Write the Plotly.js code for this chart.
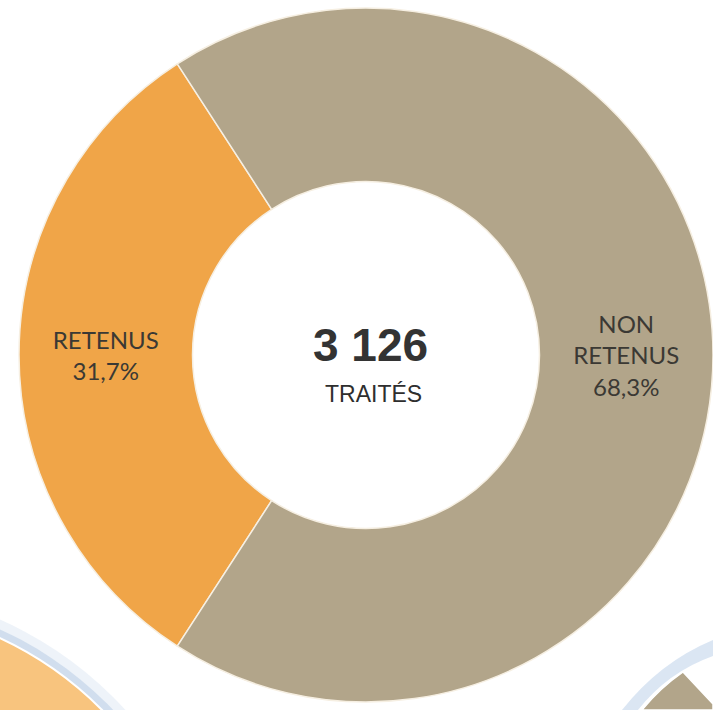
<!DOCTYPE html>
<html>
<head>
<meta charset="utf-8">
<script src="https://cdn.plot.ly/plotly-3.0.1.min.js"></script>
<style>
  html, body { margin: 0; padding: 0; background: #ffffff; overflow: hidden; }
  #chart { width: 713px; height: 710px; }
</style>
</head>
<body>
<div id="chart"></div>
<script>
// ---- Data ----
const categories = ["RETENUS", "NON<br>RETENUS"];
const shares = [31.7, 68.3];
const sliceColors = ["#F0A548", "#B2A58A"];
const totalValue = "3 126";
const totalLabel = "TRAITÉS";

// ---- Chart ----
const W = 713, H = 710;
const cx = 366, cy = 355, R = 347;

const trace = {
  type: "pie",
  labels: categories,
  values: shares,
  sort: false,
  direction: "clockwise",
  rotation: 270 - (shares[0] / 100) * 180,
  hole: 0.5,
  marker: { colors: sliceColors, line: { color: "#f6efe2", width: 1.5 } },
  texttemplate: "%{label}<br>%{percent:.1%}",
  textposition: "inside",
  insidetextorientation: "horizontal",
  insidetextfont: { family: "Lato, 'Open Sans', sans-serif", size: 24, color: "#3b3934" },
  showlegend: false,
  hoverinfo: "none",
  domain: {
    x: [(cx - R) / W, (cx + R) / W],
    y: [(H - cy - R) / H, (H - cy + R) / H]
  }
};

const px = v => v / W;
const py = v => 1 - v / H;

const layout = {
  width: W,
  height: H,
  margin: { l: 0, r: 0, t: 0, b: 0 },
  paper_bgcolor: "#ffffff",
  separators: ", ",
  showlegend: false,
  shapes: [
    // bottom-left neighbour chart (soft shadow + light orange disc)
    { type: "circle", xref: "paper", yref: "paper", layer: "below",
      x0: px(-150 - 372), x1: px(-150 + 372), y0: py(960 + 372), y1: py(960 - 372),
      fillcolor: "rgba(200,216,235,0.3)", line: { width: 0 } },
    { type: "circle", xref: "paper", yref: "paper", layer: "below",
      x0: px(-150 - 363), x1: px(-150 + 363), y0: py(960 + 363), y1: py(960 - 363),
      fillcolor: "rgba(180,202,228,0.5)", line: { width: 0 } },
    { type: "circle", xref: "paper", yref: "paper", layer: "below",
      x0: px(-150 - 355), x1: px(-150 + 355), y0: py(960 + 355), y1: py(960 - 355),
      fillcolor: "#F8C47E", line: { color: "#ffffff", width: 2 } },
    // bottom-right neighbour chart (soft shadow + tan slice)
    { type: "path", xref: "paper", yref: "paper", layer: "below",
      path: "M " + px(622) + "," + py(710) + " Q " + px(660) + "," + py(662) + " " + px(713) + "," + py(640) +
            " L " + px(713) + "," + py(656) + " Q " + px(668) + "," + py(672) + " " + px(638) + "," + py(710) + " Z",
      fillcolor: "rgba(190,210,234,0.55)", line: { width: 0 } },
    { type: "path", xref: "paper", yref: "paper", layer: "below",
      path: "M " + px(683) + "," + py(672) + " Q " + px(660) + "," + py(688) + " " + px(642) + "," + py(710) +
            " L " + px(713) + "," + py(710) + " L " + px(713) + "," + py(704) + " Z",
      fillcolor: "#B2A58A", line: { color: "#ffffff", width: 1.5 } }
  ],
  annotations: [
    { text: "<b>" + totalValue + "</b>", x: px(371), y: py(345), xref: "paper", yref: "paper",
      xanchor: "center", yanchor: "middle", showarrow: false,
      font: { family: "'Liberation Sans', Arial, sans-serif", size: 46, color: "#333333" } },
    { text: totalLabel, x: px(373), y: py(394), xref: "paper", yref: "paper",
      xanchor: "center", yanchor: "middle", showarrow: false,
      font: { family: "'Liberation Sans', Arial, sans-serif", size: 23, color: "#2e2e2e" } }
  ]
};

Plotly.newPlot("chart", [trace], layout, { staticPlot: true, displayModeBar: false });
</script>
</body>
</html>
